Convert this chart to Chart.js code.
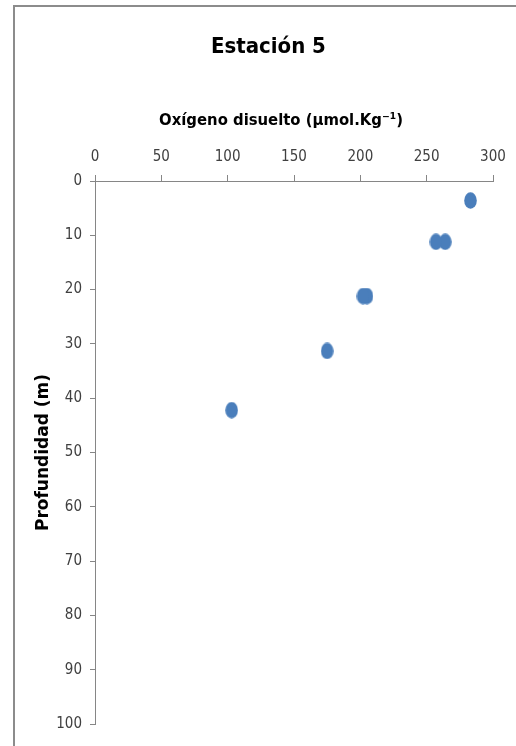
<!DOCTYPE html>
<html lang="es">
<head>
    <meta charset="UTF-8">
    <title>Estación 5</title>
    <script src="https://cdn.jsdelivr.net/npm/chart.js"></script>
    <style>
        body { margin: 0; background: #fff; overflow: hidden; }
        #wrap { position: relative; width: 516px; height: 746px; }
        #frame { position: absolute; left: 13px; top: 5px; width: 530px; height: 760px; border: 2px solid #8c8c8c; box-sizing: border-box; }
        canvas { position: absolute; left: 0; top: 0; }
    </style>
</head>
<body>
<div id="wrap">
    <div id="frame"></div>
    <canvas id="chart" width="516" height="746"></canvas>
</div>
<script>
    // oxígeno disuelto (µmol/kg) vs profundidad (m)
    const oxygen = [283, 264, 257, 205, 202, 175, 103];
    const depth = [3.6, 11.2, 11.2, 21.2, 21.2, 31.3, 42.2];

    const narrow = "'Liberation Sans Narrow', 'DejaVu Sans Condensed', sans-serif";
    const axisGray = '#868686';
    const nb = '\u00a0';

    // slightly tall dot like the original
    const dot = document.createElement('canvas');
    dot.width = 13; dot.height = 17;
    const dctx = dot.getContext('2d');
    dctx.fillStyle = '#4a7ebb';
    dctx.beginPath();
    dctx.ellipse(6.5, 8.5, 6.3, 8.3, 0, 0, Math.PI * 2);
    dctx.fill();

    new Chart(document.getElementById('chart'), {
        type: 'scatter',
        data: {
            datasets: [{
                data: oxygen.map((o, i) => ({ x: o, y: depth[i] })),
                pointStyle: dot,
                backgroundColor: '#4a7ebb'
            }]
        },
        options: {
            responsive: false,
            animation: false,
            layout: { padding: { left: 30, right: 23, top: 0, bottom: 22 } },
            plugins: {
                legend: { display: false },
                tooltip: { enabled: false },
                title: {
                    display: true,
                    text: nb.repeat(2) + 'Estación 5',
                    color: '#000',
                    font: { family: narrow, size: 22, weight: 'bold' },
                    padding: { top: 34, bottom: 20 }
                }
            },
            scales: {
                x: {
                    type: 'linear',
                    position: 'top',
                    min: 0, max: 300,
                    afterFit: s => { s.height = 100.6; },
                    ticks: { stepSize: 50, color: '#404040', padding: 9, font: { family: narrow, size: 15 } },
                    grid: { drawOnChartArea: false, tickLength: 6, color: axisGray },
                    border: { color: axisGray, width: 1 },
                    title: {
                        display: true,
                        text: 'Oxígeno disuelto (µmol.Kg⁻¹)' + nb.repeat(5),
                        color: '#000',
                        font: { family: narrow, size: 16.5, weight: 'bold' },
                        padding: { top: 30 }
                    }
                },
                y: {
                    type: 'linear',
                    reverse: true,
                    min: 0, max: 100,
                    afterFit: s => { s.width = 65; },
                    ticks: { stepSize: 10, color: '#404040', padding: 8, font: { family: narrow, size: 15 } },
                    grid: { drawOnChartArea: false, tickLength: 5, color: axisGray },
                    border: { color: axisGray, width: 1 },
                    title: {
                        display: true,
                        text: 'Profundidad (m)',
                        color: '#000',
                        font: { family: 'DejaVu Sans', size: 17, weight: 'bold' },
                        padding: { top: 3 }
                    }
                }
            }
        }
    });
</script>
</body>
</html>
